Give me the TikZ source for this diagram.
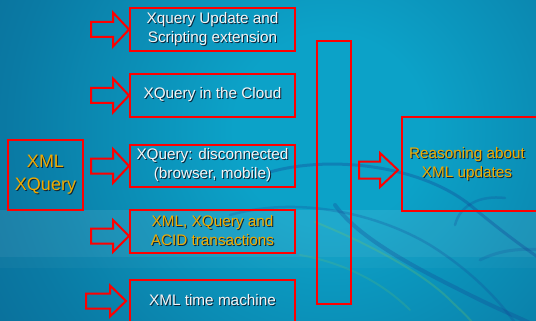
\documentclass[tikz,border=0pt]{standalone}
\usepackage{fontspec}
\setmainfont{Liberation Sans}
\usetikzlibrary{calc}

\definecolor{bgcore}{RGB}{12,162,200}
\definecolor{bgmid}{RGB}{10,122,164}
\definecolor{bgedge}{RGB}{11,76,122}
\definecolor{bgfar}{RGB}{10,60,104}
\definecolor{framered}{RGB}{255,0,0}
\definecolor{labelwhite}{RGB}{245,245,245}
\definecolor{labelgold}{RGB}{240,170,0}
\definecolor{shadowink}{RGB}{12,36,56}
\definecolor{swirlblue}{RGB}{20,70,150}
\definecolor{swirlgreen}{RGB}{120,200,90}

\pgfdeclareradialshading{seaglow}{\pgfpointorigin}{%
  color(0bp)=(bgcore); color(6bp)=(bgcore); color(20bp)=(bgmid);
  color(41bp)=(bgedge); color(50bp)=(bgfar)}

% text with a small dark drop shadow
\newcommand\shd[1]{\leavevmode\rlap{\raisebox{-1pt}{\kern1pt\textcolor{shadowink}{#1}}}#1}

% block arrow pointing right, tip at #1
% #2 length, #3 shaft half height, #4 head half height, #5 head length
\newcommand\blockarrow[5]{%
  \draw[barrow] (#1) -- ++(-#5,-#4) -- ++(0,#4-#3) -- ++(-#2+#5,0)
    -- ++(0,2*#3) -- ++(#2-#5,0) -- ++(0,#4-#3) -- cycle;}

\tikzset{
  frame/.style={draw=framered, line width=2pt, rectangle, inner sep=0pt},
  barrow/.style={draw=framered, line width=2pt, line join=miter},
  lbl/.style={align=center, inner sep=0pt, font=\fontsize{15.3}{19}\selectfont},
  wlbl/.style={lbl, text=labelwhite},
  glbl/.style={lbl, text=labelgold},
}

\begin{document}
\begin{tikzpicture}[x=1pt,y=-1pt]
  \useasboundingbox (0,0) rectangle (536,321);
  \begin{scope}
    \clip (0,0) rectangle (536,321);
    % backdrop
    \shade[shading=seaglow] (330,130) circle (400);
    \fill[white, opacity=0.08] (0,210) rectangle (536,257);
    \fill[white, opacity=0.03] (0,257) rectangle (536,268);
    % faint swirls
    \begin{scope}[line cap=round]
      \draw[swirlblue, opacity=0.35, line width=3pt]
        (270,172) .. controls (330,155) and (420,165) .. (470,205)
                  .. controls (500,230) and (520,245) .. (545,262);
      \draw[swirlblue, opacity=0.3, line width=4pt]
        (335,205) .. controls (360,240) and (420,270) .. (470,295)
                  .. controls (500,310) and (520,318) .. (545,330);
      \draw[swirlblue, opacity=0.25, line width=2.5pt]
        (455,225) .. controls (460,205) and (480,195) .. (505,198);
      \draw[swirlblue, opacity=0.25, line width=2.5pt]
        (230,215) .. controls (300,195) and (380,215) .. (430,245)
                  .. controls (470,270) and (500,300) .. (520,330);
      \draw[swirlgreen, opacity=0.25, line width=2pt]
        (315,222) .. controls (360,240) and (420,270) .. (450,300)
                  .. controls (460,310) and (470,318) .. (478,330);
      \draw[swirlgreen, opacity=0.18, line width=2pt]
        (300,255) .. controls (340,262) and (380,280) .. (410,310);
      \draw[swirlblue, opacity=0.2, line width=3pt]
        (480,260) .. controls (500,250) and (520,248) .. (545,250);
    \end{scope}
  \end{scope}

  % source box
  \node[frame, minimum width=75pt, minimum height=70pt,
        align=center, text=labelgold, font=\fontsize{18}{23}\selectfont]
        (xml) at (45.5,175) {\shd{XML}\\\shd{XQuery}};

  % topic boxes
  \node[frame, minimum width=165pt, minimum height=43pt] (b1) at (212.5,29.5) {};
  \node[frame, minimum width=165pt, minimum height=43pt] (b2) at (212.5,95.5) {};
  \node[frame, minimum width=165pt, minimum height=42pt] (b3) at (212.5,166) {};
  \node[frame, minimum width=165pt, minimum height=43pt] (b4) at (212.5,231.5) {};
  \node[frame, minimum width=165pt, minimum height=42pt] (b5) at (212.5,301) {};

  \node[wlbl] (t1) at (b1.center) {\shd{Xquery Update and}\\\shd{Scripting extension}};
  \node[wlbl] (t2) at (b2.center) {\shd{XQuery in the Cloud}};
  \node[wlbl] (t3) at (b3.center) {\shd{XQuery: disconnected}\\\shd{(browser, mobile)}};
  \node[glbl] (t4) at (b4.center) {\shd{XML, XQuery and}\\\shd{ACID transactions}};
  \node[wlbl] (t5) at (b5.center) {\shd{XML time machine}};

  % collecting bar and target box
  \node[frame, minimum width=34pt, minimum height=263pt] (bar) at (334,172.5) {};
  \node[frame, minimum width=143pt, minimum height=94pt] (res) at (473.5,164) {};
  \node[glbl] (rt) at (467,165) {\shd{Reasoning about}\\\shd{XML updates}};

  % block arrows
  \coordinate (p1) at (b1.west);
  \coordinate (p2) at (b2.west);
  \coordinate (p3) at (b3.west);
  \coordinate (p4) at ($(b4.west)+(0,4.5)$);
  \coordinate (p5) at ($(b5.west)+(-3,0)$);
  \coordinate (p6) at ($(res.west)+(-3,6)$);
  \blockarrow{p1}{38}{7.5}{17}{16}
  \blockarrow{p2}{38}{7.5}{17}{16}
  \blockarrow{p3}{38}{7.5}{17}{16}
  \blockarrow{p4}{38}{7.5}{16}{16}
  \blockarrow{p5}{40}{7.5}{15.5}{16}
  \blockarrow{p6}{39}{8.5}{17}{18}
\end{tikzpicture}
\end{document}
